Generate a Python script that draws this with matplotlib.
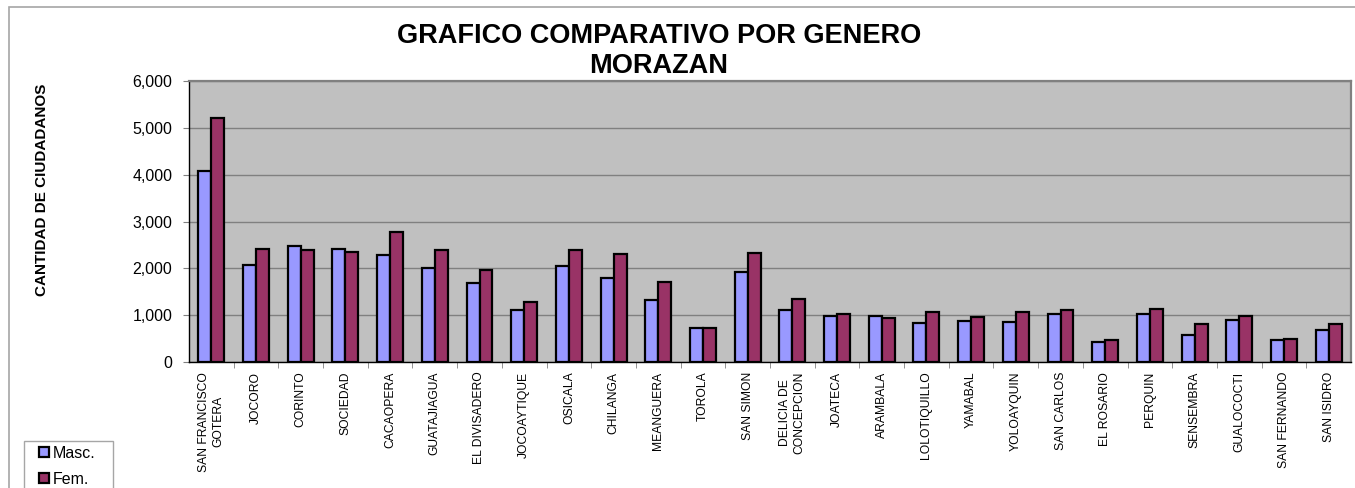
import numpy as np
import matplotlib
matplotlib.use("Agg")
import matplotlib.pyplot as plt
from matplotlib.patches import Rectangle
from matplotlib.ticker import StrMethodFormatter, FixedLocator

plt.rcParams["font.family"] = ["Liberation Sans", "DejaVu Sans"]

# ================= DATA ================= #
municipios = [
    "SAN FRANCISCO\nGOTERA", "JOCORO", "CORINTO", "SOCIEDAD", "CACAOPERA",
    "GUATAJIAGUA", "EL DIVISADERO", "JOCOAYTIQUE", "OSICALA", "CHILANGA",
    "MEANGUERA", "TOROLA", "SAN SIMON", "DELICIA DE\nCONCEPCION", "JOATECA",
    "ARAMBALA", "LOLOTIQUILLO", "YAMABAL", "YOLOAYQUIN", "SAN CARLOS",
    "EL ROSARIO", "PERQUIN", "SENSEMBRA", "GUALOCOCTI", "SAN FERNANDO",
    "SAN ISIDRO",
]
masc = [4080, 2080, 2470, 2405, 2285, 2007, 1695, 1110, 2057, 1800,
        1317, 726, 1915, 1110, 982, 989, 833, 875, 847, 1025,
        420, 1025, 577, 890, 470, 676]
fem = [5203, 2405, 2391, 2349, 2769, 2398, 1971, 1274, 2391, 2313,
       1701, 726, 2327, 1345, 1025, 946, 1075, 968, 1061, 1117,
       463, 1139, 805, 975, 491, 819]

# ================= PLOT ================= #
W, H = 1355, 488
fig = plt.figure(figsize=(W / 100, H / 100), dpi=100)
ax = fig.add_axes([189 / W, 1 - 362 / H, (1351 - 189) / W, (362 - 81) / H])
ax.set_facecolor("#C0C0C0")

x = np.arange(len(municipios))
w = 0.29
b1 = ax.bar(x - w / 2, masc, w, color="#9999FF", edgecolor="black",
            linewidth=1.6, label="Masc.", zorder=3)
b2 = ax.bar(x + w / 2, fem, w, color="#993366", edgecolor="black",
            linewidth=1.6, label="Fem.", zorder=3)

ax.set_xlim(-0.5, len(municipios) - 0.5)
ax.set_ylim(0, 6000)
ax.set_yticks(np.arange(0, 6001, 1000))
ax.yaxis.set_major_formatter(StrMethodFormatter("{x:,.0f}"))
ax.grid(axis="y", color="#808080", linewidth=1.0, zorder=1)

ax.set_xticks(x)
ax.set_xticklabels(municipios, rotation=90, fontsize=8.7, va="top",
                   ha="center", multialignment="center")
ax.xaxis.set_minor_locator(FixedLocator(x[:-1] + 0.5))
ax.tick_params(axis="x", which="major", length=0, pad=7)
ax.tick_params(axis="x", which="minor", length=4, color="#808080")
ax.tick_params(axis="y", length=4, color="#808080", pad=8, labelsize=11.5)

for s in ["top", "right"]:
    ax.spines[s].set_color("#808080")
    ax.spines[s].set_linewidth(1.6)
for s in ["left", "bottom"]:
    ax.spines[s].set_color("black")
    ax.spines[s].set_linewidth(1.0)

# ---- titles ----
fig.text(659 / W, 1 - 43.3 / H, "GRAFICO COMPARATIVO POR GENERO",
         ha="center", va="baseline", fontsize=19.5, fontweight="bold")
fig.text(659 / W, 1 - 72.7 / H, "MORAZAN",
         ha="center", va="baseline", fontsize=19.5, fontweight="bold")
fig.text(42 / W, 1 - 190 / H, "CANTIDAD DE CIUDADANOS", rotation=90,
         ha="center", va="center", fontsize=11, fontweight="bold")

# ---- chart border ----
fig.patches.append(Rectangle((9 / W, -0.1), 1.2, 1.1 - 7 / H,
                             transform=fig.transFigure, fill=False,
                             edgecolor="#A6A6A6", linewidth=1.2))

# ---- legend (box drawn separately, it runs off the bottom edge) ----
fig.patches.append(Rectangle((24 / W, -0.1), (113 - 24) / W, 0.1 + 1 - 441 / H,
                             transform=fig.transFigure, fill=False,
                             edgecolor="#A6A6A6", linewidth=1.0))
leg = fig.legend(handles=[b1, b2], loc="upper left",
                 bbox_to_anchor=(39 / W, 1 - 446 / H),
                 bbox_transform=fig.transFigure, borderaxespad=0,
                 fontsize=11.5, frameon=False,
                 handlelength=0.6, handleheight=0.6, handletextpad=0.25,
                 labelspacing=0.68, borderpad=0)

fig.savefig("out.png", dpi=100)
